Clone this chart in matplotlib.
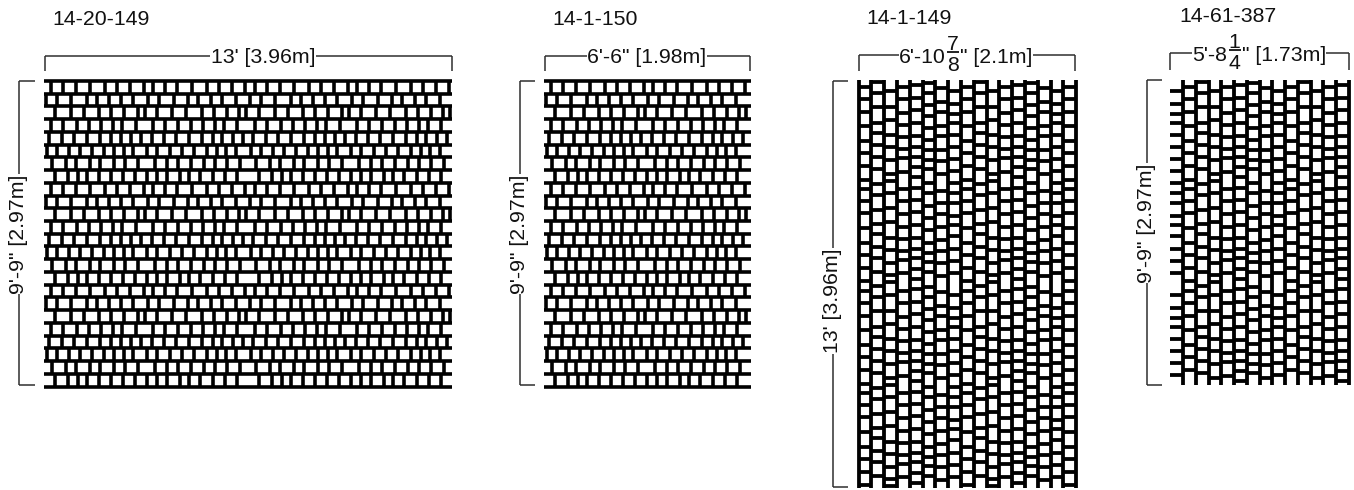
import matplotlib
matplotlib.use("Agg")
import matplotlib.pyplot as plt

plt.rcParams['font.family'] = ['Liberation Sans', 'DejaVu Sans']

# Joint positions along one 204-unit repeat of the bond, one list per course
course_1 = [7, 19, 32, 46, 61, 73, 86, 100, 109, 121, 133, 148, 163, 175, 188, 201]
course_2 = [2, 13, 27, 43, 53, 65, 77, 89, 104, 115, 130, 144, 154, 167, 178, 192]
course_3 = [11, 27, 40, 55, 67, 80, 94, 101, 113, 128, 142, 158, 170, 183, 195, 202]
course_4 = [7, 19, 33, 45, 57, 69, 78, 92, 109, 121, 134, 147, 159, 171, 180, 193]
course_5 = [5, 18, 30, 43, 56, 67, 77, 87, 97, 108, 120, 132, 145, 158, 169, 178, 189, 199]
course_6 = [3, 13, 25, 36, 48, 60, 70, 80, 89, 103, 113, 126, 138, 150, 163, 173, 182, 192]
course_7 = [8, 22, 32, 46, 56, 70, 81, 94, 111, 123, 134, 147, 160, 171, 183, 196]
course_8 = [11, 24, 34, 43, 55, 67, 79, 91, 103, 113, 123, 136, 145, 156, 169, 181, 193]
courses = [course_1, course_2, course_3, course_4, course_5, course_6, course_7, course_8]
TILE = 204

titles = ["14-20-149", "14-1-150", "14-1-149", "14-61-387"]
width_labels = ["13' [3.96m]", "6'-6\" [1.98m]"]
height_labels = ["9'-9\" [2.97m]", "9'-9\" [2.97m]", "13' [3.96m]", "9'-9\" [2.97m]"]

INK = "black"
DIM = "#2a2a2a"
LW = 3.6 * 0.72
LW_V = 3.8 * 0.72
DIM_LW = 1.5 * 0.72
TXT = 15.3

fig = plt.figure(figsize=(13.54, 4.9), dpi=100)
ax = fig.add_axes([0, 0, 1, 1])
ax.set_xlim(0, 1354)
ax.set_ylim(490, 0)
ax.axis("off")


def seg(x0, y0, x1, y1, lw=LW, color=INK, z=2):
    ax.plot([x0, x1], [y0, y1], color=color, lw=lw, solid_capstyle="butt", zorder=z)


def joints(course, length):
    out = []
    k = 0
    while k * TILE < length:
        out += [j + k * TILE for j in course if j + k * TILE < length - 1]
        k += 1
    return out


def horizontal_panel(x0, x1, y0, n, step):
    for r in range(n + 1):
        seg(x0, y0 + r * step, x1, y0 + r * step)
    for r in range(n):
        for j in joints(courses[r % 8], x1 - x0):
            seg(x0 + j, y0 + r * step, x0 + j, y0 + (r + 1) * step)


def vertical_panel(x0, y0, y1, n, step, stub=0):
    for c in range(n + 1):
        seg(x0 + c * step, y0, x0 + c * step, y1, LW_V)
    if stub:
        for j in joints(courses[7], y1 - y0):
            seg(x0 - stub, y0 + j, x0, y0 + j, LW_V)
    for c in range(n):
        for j in joints(courses[c % 8], y1 - y0):
            seg(x0 + c * step, y0 + j, x0 + (c + 1) * step, y0 + j, LW_V)


def top_dim(x0, x1, y, y_end):
    seg(x0, y_end, x0, y, DIM_LW, DIM)
    seg(x1, y_end, x1, y, DIM_LW, DIM)
    seg(x0, y, x1, y, DIM_LW, DIM)


def left_dim(x, y0, y1, tick_end, label, yc):
    seg(x, y0, x, y1, DIM_LW, DIM)
    seg(x, y0, tick_end, y0, DIM_LW, DIM)
    seg(x, y1, tick_end, y1, DIM_LW, DIM)
    ax.text(x, yc, label, rotation=90, ha="center", va="center", fontsize=TXT,
            color="#111111", bbox=dict(fc="white", ec="none", pad=0.3), zorder=3)


def top_label(xc, y, label):
    ax.text(xc, y, label, ha="center", va="baseline", fontsize=TXT, color="#111111",
            bbox=dict(fc="white", ec="none", pad=0.3), zorder=3)


def fraction_label(x_left, whole, xf, num, den, x_right, rest, y, ybar, y_num, y_den, xa, xb):
    ax.fill_between([xa, xb], y - 18, y + 6, color="white", zorder=2.5, lw=0)
    ax.text(x_left, y, whole, ha="right", va="baseline", fontsize=TXT, color="#111111", zorder=3)
    ax.text(xf, y_num, num, ha="center", va="baseline", fontsize=TXT, color="#111111", zorder=3)
    ax.text(xf, y_den, den, ha="center", va="baseline", fontsize=TXT, color="#111111", zorder=3)
    seg(xf - 6, ybar, xf + 6, ybar, 1.3, "#111111", 3)
    ax.text(x_right, y, rest, ha="left", va="baseline", fontsize=TXT, color="#111111", zorder=3)


# Panel 1
horizontal_panel(44, 452, 81, 24, 12.73)
top_dim(44.5, 451.5, 56, 71)
top_label(263, 63, width_labels[0])
left_dim(18.5, 81, 385, 35, height_labels[0], 234)
ax.text(52, 25, titles[0], fontsize=TXT, color="#111111")

# Panel 2
horizontal_panel(544, 751, 81, 24, 12.73)
top_dim(545, 750, 56, 71)
top_label(647, 63, width_labels[1])
left_dim(519.5, 81, 385, 535, height_labels[1], 234)
ax.text(552, 25, titles[1], fontsize=TXT, color="#111111")

# Panel 3
vertical_panel(858.5, 80, 488, 17, 12.8)
top_dim(858.5, 1075, 55.5, 71)
fraction_label(946, "6'-10", 952.5, "7", "8", 960, "\" [2.1m]", 63, 52, 50, 71, 899, 1033)
left_dim(833, 81, 487, 848, height_labels[2], 301)
ax.text(866, 24, titles[2], fontsize=TXT, color="#111111")

# Panel 4
vertical_panel(1183, 80, 385, 13, 12.77, stub=13.5)
top_dim(1170, 1349, 53.5, 70)
fraction_label(1227, "5'-8", 1234.5, "1", "4", 1242, "\" [1.73m]", 61, 50, 48, 69, 1192, 1326)
left_dim(1147, 80, 385, 1162, height_labels[3], 223)
ax.text(1179, 22, titles[3], fontsize=TXT, color="#111111")

fig.savefig("out.png", dpi=100)
